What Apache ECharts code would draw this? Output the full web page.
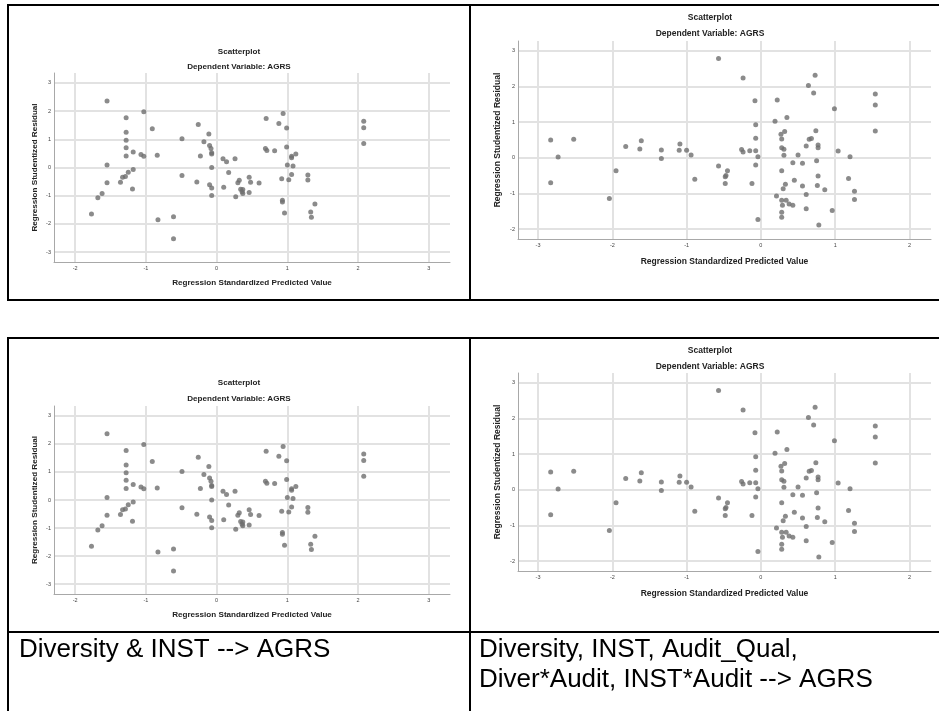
<!DOCTYPE html>
<html>
<head>
<meta charset="utf-8">
<script src="https://cdn.jsdelivr.net/npm/echarts@6/dist/echarts.min.js"></script>
<style>
html,body{margin:0;padding:0;background:#fff;}
#main_chart{width:939px;height:711px;}
</style>
</head>
<body>
<div id="main_chart"></div>
<script>
var titleText = 'Scatterplot';
var subText = 'Dependent Variable: AGRS';
var xName = 'Regression Standardized Predicted Value';
var yName = 'Regression Studentized Residual';
var captionLeft = 'Diversity & INST --> AGRS';
var captionRight = ['Diversity, INST, Audit_Qual,', 'Diver*Audit, INST*Audit --> AGRS'];

// Diversity & INST --> AGRS  [predicted, residual]
var pointsA = [
    [-1.55,2.36],[-1.03,1.98],[-1.28,1.76],[-1.28,1.25],[-1.28,0.97],[-1.28,0.70],[-1.28,0.41],
    [-1.18,0.55],[-0.91,1.37],[-1.07,0.46],[-1.03,0.40],[-0.84,0.43],[-1.55,0.09],[-1.55,-0.54],
    [-1.18,-0.07],[-1.25,-0.17],[-1.29,-0.32],[-1.33,-0.35],[-1.36,-0.52],[-1.19,-0.76],[-1.62,-0.92],
    [-1.68,-1.07],[-1.77,-1.65],[-0.83,-1.85],[-0.61,-1.75],[-0.61,-2.53],[-0.49,1.02],[-0.49,-0.28],
    [-0.28,-0.51],[-0.26,1.52],[-0.11,1.19],[-0.18,0.91],[-0.10,0.78],[-0.08,0.67],[-0.07,0.52],
    [-0.07,0.48],[-0.23,0.41],[-0.07,0.00],[-0.10,-0.61],[-0.07,-0.73],[-0.07,-0.99],[0.09,0.31],
    [0.14,0.20],[0.26,0.31],[0.17,-0.18],[0.10,-0.70],[0.27,-1.04],[0.30,-0.54],[0.32,-0.45],
    [0.34,-0.77],[0.36,-0.86],[0.37,-0.78],[0.37,-0.92],[0.46,-0.35],[0.48,-0.52],[0.46,-0.89],
    [0.60,-0.55],[0.70,1.74],[0.69,0.67],[0.71,0.60],[0.82,0.59],[0.88,1.56],[0.94,1.91],
    [0.99,1.40],[0.99,0.73],[1.06,0.40],[1.06,0.35],[1.12,0.48],[1.00,0.09],[1.08,0.05],
    [1.06,-0.25],[0.92,-0.40],[1.02,-0.43],[0.93,-1.16],[0.93,-1.22],[0.96,-1.61],[1.29,-0.27],
    [1.29,-0.44],[1.39,-1.29],[1.33,-1.58],[1.34,-1.76],[2.08,1.64],[2.08,1.41],[2.08,0.85]
];
var ticksAX = [-2, -1, 0, 1, 2, 3];
var ticksAY = [-3, -2, -1, 0, 1, 2, 3];

// Diversity, INST, Audit_Qual, Diver*Audit, INST*Audit --> AGRS
var pointsB = [
    [-2.83,0.50],[-2.73,0.02],[-2.83,-0.70],[-2.52,0.52],[-2.04,-1.14],[-1.95,-0.36],[-1.82,0.32],
    [-1.63,0.25],[-1.61,0.48],[-1.34,0.22],[-1.34,-0.02],[-1.09,0.39],[-1.10,0.21],[-1.00,0.21],
    [-0.94,0.08],[-0.89,-0.60],[-0.57,2.79],[-0.57,-0.23],[-0.45,-0.36],[-0.47,-0.50],[-0.48,-0.53],
    [-0.48,-0.72],[-0.24,2.24],[-0.26,0.23],[-0.24,0.16],[-0.15,0.20],[-0.12,-0.72],[-0.08,1.60],
    [-0.07,0.93],[-0.07,0.55],[-0.07,0.20],[-0.04,0.03],[-0.07,-0.20],[-0.04,-1.73],[0.22,1.62],
    [0.19,1.03],[0.35,1.13],[0.27,0.66],[0.32,0.74],[0.28,0.53],[0.28,0.28],[0.31,0.24],
    [0.31,0.07],[0.28,-0.36],[0.33,-0.74],[0.30,-0.87],[0.21,-1.07],[0.28,-1.19],[0.29,-1.33],
    [0.34,-1.19],[0.38,-1.30],[0.43,-1.33],[0.28,-1.53],[0.28,-1.67],[0.43,-0.14],[0.50,0.08],
    [0.45,-0.63],[0.56,-0.15],[0.56,-0.79],[0.61,0.33],[0.61,-1.03],[0.61,-1.43],[0.64,2.03],
    [0.65,0.52],[0.68,0.54],[0.71,1.82],[0.73,2.32],[0.74,0.76],[0.75,-0.08],[0.77,0.36],
    [0.77,0.28],[0.77,-0.51],[0.76,-0.78],[0.78,-1.89],[0.86,-0.90],[0.96,-1.48],[0.99,1.38],
    [1.04,0.19],[1.20,0.03],[1.18,-0.58],[1.26,-0.94],[1.26,-1.17],[1.54,1.79],[1.54,1.48],
    [1.54,0.75]
];
var ticksBX = [-3, -2, -1, 0, 1, 2];
var ticksBY = [-2, -1, 0, 1, 2, 3];

var font = 'Liberation Sans, Arial, sans-serif';

// one panel per table cell
var panels = [
    {data: pointsA, tx: ticksAX, ty: ticksAY, xr: [-2.3, 3.3], yr: [-3.35, 3.35], fs: 8.1,
     grid: {left: 54, top: 73, width: 396, height: 189}, cx: 239, t1: 52, t2: 67, xGap: 17, yGap: 15},
    {data: pointsB, tx: ticksBX, ty: ticksBY, xr: [-3.27, 2.29], yr: [-2.28, 3.28], fs: 8.5,
     grid: {left: 518, top: 41, width: 413, height: 198}, cx: 710, t1: 17, t2: 33, xGap: 18, yGap: 16},
    {data: pointsA, tx: ticksAX, ty: ticksAY, xr: [-2.3, 3.3], yr: [-3.35, 3.35], fs: 8.1,
     grid: {left: 54, top: 406, width: 396, height: 188}, cx: 239, t1: 383, t2: 399, xGap: 17, yGap: 15},
    {data: pointsB, tx: ticksBX, ty: ticksBY, xr: [-3.27, 2.29], yr: [-2.28, 3.28], fs: 8.5,
     grid: {left: 518, top: 373, width: 413, height: 198}, cx: 710, t1: 350, t2: 366, xGap: 18, yGap: 16}
];

var makeAxis = function(idx, range, ticks, name, gap, fs){
    return {
        type: 'value',
        gridIndex: idx,
        min: range[0],
        max: range[1],
        name: name,
        nameLocation: 'middle',
        nameGap: gap,
        nameTextStyle: {fontSize: fs, fontWeight: 'bold', color: '#222', fontFamily: font},
        axisLine: {show: true, onZero: false, lineStyle: {color: '#a8a8a8', width: 1}},
        axisTick: {show: false, customValues: ticks},
        axisLabel: {customValues: ticks, fontSize: 5.5, color: '#444', margin: 3, fontFamily: font},
        splitLine: {show: true, lineStyle: {color: '#e2e2e2', width: 2}}
    };
};

var grids = [], xAxes = [], yAxes = [], series = [], titles = [];
panels.forEach(function(p, i){
    grids.push(p.grid);
    xAxes.push(makeAxis(i, p.xr, p.tx, xName, p.xGap, p.fs));
    yAxes.push(makeAxis(i, p.yr, p.ty, yName, p.yGap, p.fs));
    series.push({
        type: 'scatter',
        xAxisIndex: i,
        yAxisIndex: i,
        data: p.data,
        symbolSize: 5,
        itemStyle: {color: '#6e6e6e'},
        silent: true
    });
    titles.push({text: titleText, left: p.cx, top: p.t1 - 4, textAlign: 'center', padding: 0,
        textStyle: {fontSize: p.fs, fontWeight: 'bold', color: '#222', fontFamily: font}});
    titles.push({text: subText, left: p.cx, top: p.t2 - 4, textAlign: 'center', padding: 0,
        textStyle: {fontSize: p.fs, fontWeight: 'bold', color: '#222', fontFamily: font}});
});

var line = function(x1, y1, x2, y2){
    return {type: 'line', shape: {x1: x1, y1: y1, x2: x2, y2: y2},
        style: {stroke: '#000', lineWidth: 2}, z: 100};
};
var caption = function(txt, x, y){
    return {type: 'text', x: x, y: y, z: 100,
        style: {text: txt, fontSize: 26, fill: '#000', fontFamily: font, verticalAlign: 'middle'}};
};

var borders = [
    line(8, 5, 939, 5), line(8, 4, 8, 301), line(470, 5, 470, 301), line(8, 300, 939, 300),
    line(8, 338, 939, 338), line(8, 337, 8, 711), line(470, 338, 470, 711), line(8, 632, 939, 632),
    caption(captionLeft, 19, 650),
    caption(captionRight[0], 479, 650),
    caption(captionRight[1], 479, 680)
];

var chartOpt = {
    animation: false,
    backgroundColor: '#fff',
    title: titles,
    grid: grids,
    xAxis: xAxes,
    yAxis: yAxes,
    series: series,
    graphic: borders
};

var main_chart = echarts.init(document.getElementById('main_chart'));
main_chart.setOption(chartOpt);
</script>
</body>
</html>
